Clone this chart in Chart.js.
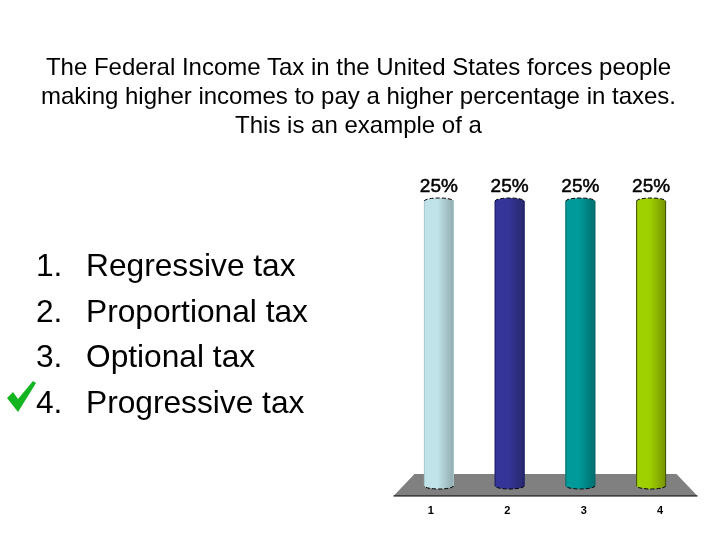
<!DOCTYPE html>
<html>
<head>
<meta charset="utf-8">
<script src="https://cdn.jsdelivr.net/npm/chart.js@4"></script>
<style>
  html, body { margin: 0; padding: 0; background: #fff; }
  #slide { position: relative; width: 720px; height: 540px; overflow: hidden; font-family: "Liberation Sans", Arial, sans-serif; color: #000; }
  #grafica { position: absolute; left: 0; top: 0; }
  #pregunta { position: absolute; left: 0; top: 52px; width: 717px; text-align: center; font-size: 24px; line-height: 29px; }
  .opcion { position: absolute; font-size: 31.7px; line-height: 36px; white-space: nowrap; }
  .num { position: absolute; left: 36px; }
  .txt { position: absolute; left: 86px; }
  #check { position: absolute; left: 0; top: 370px; }
</style>
</head>
<body>
<div id="slide">
  <canvas id="grafica" width="720" height="540"></canvas>
  <div id="pregunta">The Federal Income Tax in the United States forces people<br>making higher incomes to pay a higher percentage in taxes.<br>This is an example of a</div>
  <div id="lista"></div>
  <svg id="check" width="50" height="50" viewBox="0 0 50 50">
    <polygon points="7,28 13,22 18,29 33,11 36,13 18,42" fill="#12b520"/>
  </svg>
</div>
<script>
const categorias = ["1", "2", "3", "4"];
const valores = [25, 25, 25, 25];
const opciones = ["Regressive tax", "Proportional tax", "Optional tax", "Progressive tax"];

// colores del cilindro: borde, brillo, sombra
const colorBorde = ["#a8c8cc", "#1c1c66", "#006a6b", "#3d4f00"];
const colorBrillo = ["#bfe3e8", "#353599", "#009a9a", "#9fd000"];
const colorSombra = ["#92acb0", "#28286e", "#006e70", "#769400"];

// ─── lista de respuestas ───
const lista = document.getElementById("lista");
opciones.forEach((o, i) => {
  const fila = document.createElement("div");
  fila.className = "opcion";
  fila.style.top = (247 + i * 45.7) + "px";
  fila.style.left = "0";
  fila.innerHTML = `<span class="num">${i + 1}.</span><span class="txt">${o}</span>`;
  lista.appendChild(fila);
});

function gradiente(ctx, x, w, i) {
  const g = ctx.createLinearGradient(x - w / 2, 0, x + w / 2, 0);
  g.addColorStop(0, colorBrillo[i]);
  g.addColorStop(0.45, colorBrillo[i]);
  g.addColorStop(1, colorSombra[i]);
  return g;
}

// piso gris en perspectiva
const piso = {
  id: "piso",
  beforeDatasetsDraw(chart) {
    const { ctx, chartArea: a } = chart;
    ctx.save();
    ctx.beginPath();
    ctx.moveTo(a.left + 11, a.bottom - 12);
    ctx.lineTo(a.right - 10, a.bottom - 12);
    ctx.lineTo(a.right + 11, a.bottom + 10);
    ctx.lineTo(a.left - 10, a.bottom + 10);
    ctx.closePath();
    ctx.fillStyle = "#808080";
    ctx.fill();
    ctx.strokeStyle = "#000";
    ctx.lineWidth = 1;
    ctx.beginPath();
    ctx.moveTo(a.left - 10, a.bottom + 10);
    ctx.lineTo(a.right + 11, a.bottom + 10);
    ctx.stroke();
    ctx.restore();
  }
};

// tapas del cilindro, porcentajes y numeros del eje
const cilindros = {
  id: "cilindros",
  afterDatasetsDraw(chart) {
    const { ctx, chartArea: a } = chart;
    const centro = (a.left + a.right) / 2;
    ctx.save();
    chart.getDatasetMeta(0).data.forEach((bar, i) => {
      const w = bar.width;
      ctx.fillStyle = gradiente(ctx, bar.x, w, i);
      ctx.beginPath();
      ctx.ellipse(bar.x, bar.y, w / 2, 3, 0, 0, Math.PI * 2);
      ctx.fill();
      ctx.beginPath();
      ctx.ellipse(bar.x, bar.base, w / 2, 3, 0, 0, Math.PI * 2);
      ctx.fill();

      ctx.strokeStyle = colorBorde[i];
      ctx.lineWidth = 1;
      ctx.beginPath();
      ctx.moveTo(bar.x - w / 2, bar.y);
      ctx.lineTo(bar.x - w / 2, bar.base);
      ctx.moveTo(bar.x + w / 2, bar.y);
      ctx.lineTo(bar.x + w / 2, bar.base);
      ctx.stroke();

      ctx.strokeStyle = "#000";
      ctx.setLineDash([4, 2]);
      ctx.beginPath();
      ctx.ellipse(bar.x, bar.y, w / 2, 3, 0, Math.PI, Math.PI * 2);
      ctx.stroke();
      ctx.beginPath();
      ctx.ellipse(bar.x, bar.base, w / 2, 3, 0, 0, Math.PI);
      ctx.stroke();
      ctx.setLineDash([]);

      ctx.fillStyle = "#000";
      ctx.strokeStyle = "#000";
      ctx.lineWidth = 0.5;
      ctx.textAlign = "center";
      ctx.textBaseline = "alphabetic";
      ctx.font = '19px "Liberation Sans", Arial, sans-serif';
      ctx.fillText(valores[i] + "%", bar.x, bar.y - 9);
      ctx.strokeText(valores[i] + "%", bar.x, bar.y - 9);

      // el eje se abre un poco por la perspectiva del piso
      ctx.font = 'bold 11px "Liberation Sans", Arial, sans-serif';
      ctx.fillText(categorias[i], centro + (bar.x - centro) * 1.08 + 0.5, a.bottom + 28);
    });
    ctx.restore();
  }
};

new Chart(document.getElementById("grafica"), {
  type: "bar",
  data: {
    labels: categorias,
    datasets: [{
      data: valores,
      barThickness: 29,
      backgroundColor: c => {
        const x = c.chart.scales.x.getPixelForValue(c.dataIndex);
        if (!isFinite(x)) return colorBrillo[c.dataIndex] || "#000";
        return gradiente(c.chart.ctx, x, 29, c.dataIndex);
      }
    }]
  },
  options: {
    responsive: false,
    animation: false,
    layout: { padding: { left: 403.5, right: 33.5, top: 201, bottom: 54 } },
    plugins: { legend: { display: false }, tooltip: { enabled: false } },
    scales: {
      x: { display: false },
      y: { display: false, min: 0, max: 25 }
    }
  },
  plugins: [piso, cilindros]
});
</script>
</body>
</html>
